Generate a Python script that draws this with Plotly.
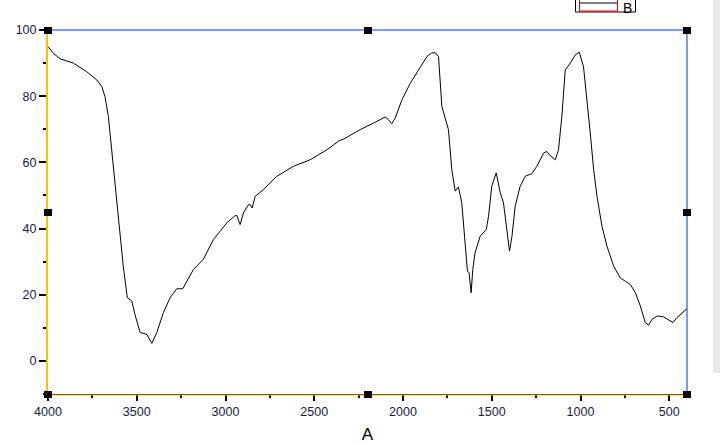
import plotly.graph_objects as go

# wavenumber (cm-1) and transmittance
wavenumber = [4000, 3970, 3932, 3857, 3782, 3725, 3697, 3679, 3660, 3645, 3613, 3576, 3553, 3528,
              3508, 3481, 3443, 3415, 3387, 3350, 3312, 3275, 3241, 3218, 3181, 3125, 3068, 3030,
              2993, 2946, 2936, 2918, 2899, 2871, 2861, 2850, 2833, 2786, 2711, 2617, 2523, 2429,
              2373, 2358, 2335, 2241, 2147, 2100, 2082, 2063, 2044, 2025, 2006, 1959, 1903, 1865,
              1840, 1819, 1800, 1781, 1744, 1725, 1706, 1688, 1669, 1650, 1637, 1628, 1616, 1607,
              1594, 1565, 1531, 1518, 1500, 1475, 1452, 1434, 1415, 1400, 1386, 1368, 1340, 1311,
              1274, 1246, 1208, 1190, 1170, 1142, 1124, 1105, 1086, 1057, 1029, 1007, 983, 964,
              945, 926, 907, 879, 851, 813, 776, 748, 719, 691, 663, 635, 616, 597, 566, 532, 503,
              479, 456, 428, 400]
transmittance = [95.0, 93.0, 91.3, 90.0, 87.4, 84.9, 82.9, 79.9, 73.9, 65.9, 48.7, 28.6, 19.1, 18.1,
                 13.6, 8.6, 8.0, 5.3, 8.6, 14.6, 19.1, 21.8, 21.8, 24.1, 27.6, 30.7, 36.7, 39.2,
                 41.7, 43.9, 43.9, 41.2, 44.7, 47.2, 47.2, 46.2, 49.7, 51.8, 55.8, 58.8, 60.8, 63.8,
                 65.8, 66.6, 67.0, 69.9, 72.4, 73.7, 72.9, 71.7, 73.4, 75.9, 78.9, 83.9, 88.5, 92.0,
                 93.0, 93.2, 92.0, 76.9, 69.9, 57.8, 51.3, 52.6, 47.8, 36.7, 27.1, 26.7, 20.6, 27.6,
                 32.7, 37.7, 39.7, 43.7, 52.8, 56.8, 50.8, 47.8, 39.7, 33.2, 37.7, 46.7, 52.8, 55.8,
                 56.6, 58.8, 62.8, 63.3, 62.0, 60.8, 63.8, 73.9, 87.9, 90.0, 92.5, 93.3, 88.9, 79.9,
                 68.9, 57.8, 49.7, 40.7, 34.7, 28.6, 25.1, 24.1, 23.1, 20.6, 16.6, 11.6, 10.8, 12.6,
                 13.6, 13.3, 12.3, 11.6, 13.1, 14.4, 15.8]

x_ticks = [4000, 3500, 3000, 2500, 2000, 1500, 1000, 500]
y_ticks = [0, 20, 40, 60, 80, 100]

W, H = 720, 444
L, R, T, B = 48, 33, 30, 50
pw, ph = W - L - R, H - T - B


def px(x):
    return (x - L) / pw


def py(y):
    return (H - B - y) / ph


fig = go.Figure()
fig.add_trace(go.Scatter(x=wavenumber, y=transmittance, mode="lines",
                         line=dict(color="black", width=1), name="B", showlegend=False))

tickfont = dict(family="Liberation Sans, Arial", size=12.5, color="#1a1a40")
fig.update_layout(
    width=W, height=H, margin=dict(l=L, r=R, t=T, b=B, autoexpand=False),
    paper_bgcolor="white", plot_bgcolor="white",
    xaxis=dict(range=[4000, 400], tickvals=x_ticks, ticks="outside", ticklen=6, tickwidth=2,
               tickcolor="black", showgrid=False, zeroline=False, tickfont=tickfont,
               showline=True, linecolor="black", linewidth=1, automargin=False,
               minor=dict(dtick=250, tick0=0, ticks="outside", ticklen=3, tickwidth=2, tickcolor="black"),
               title=dict(text="A", font=dict(family="Liberation Sans, Arial", size=17, color="black"),
                          standoff=12)),
    yaxis=dict(range=[-10, 100], tickvals=y_ticks, ticks="outside", ticklen=7, tickwidth=2,
               tickcolor="black", showgrid=False, zeroline=False, tickfont=tickfont,
               showline=True, linecolor="#FFC000", linewidth=2, automargin=False,
               minor=dict(dtick=10, tick0=0, ticks="outside", ticklen=3, tickwidth=2, tickcolor="black")),
)

shapes = []
# top and right frame lines (blue), orange underline of bottom axis
shapes.append(dict(type="line", xref="paper", yref="paper", x0=0, x1=1, y0=1, y1=1,
                   line=dict(color="#0033FF", width=1)))
shapes.append(dict(type="line", xref="paper", yref="paper", x0=1, x1=1, y0=0, y1=1,
                   line=dict(color="#0033FF", width=1)))
shapes.append(dict(type="line", xref="paper", yref="paper", x0=0, x1=1, y0=py(395), y1=py(395),
                   line=dict(color="#FFC000", width=1)))

# selection handles
for hx, hy in [(48, 30), (368, 30), (687, 30), (48, 212), (687, 212), (48, 394), (368, 394), (687, 394)]:
    shapes.append(dict(type="rect", xref="paper", yref="paper",
                       x0=px(hx - 4), x1=px(hx + 4), y0=py(hy + 4), y1=py(hy - 3),
                       fillcolor="black", line=dict(width=0)))

# legend box, cut off at the top
shapes.append(dict(type="rect", xref="paper", yref="paper", x0=px(575.5), x1=px(635.5),
                   y0=py(12), y1=py(-5), line=dict(color="black", width=1), fillcolor="white"))
shapes.append(dict(type="rect", xref="paper", yref="paper", x0=px(579.5), x1=px(617.5),
                   y0=py(11), y1=py(-5), line=dict(color="#E00000", width=1)))
shapes.append(dict(type="line", xref="paper", yref="paper", x0=px(580), x1=px(617),
                   y0=py(3), y1=py(3), line=dict(color="black", width=1)))

# window scrollbar strip at the right edge
shapes.append(dict(type="rect", xref="paper", yref="paper", x0=px(714), x1=px(722),
                   y0=py(372), y1=py(-5), fillcolor="#ececec", line=dict(color="#d8d8d8", width=1)))

fig.update_layout(shapes=shapes)
fig.add_annotation(x=px(627), y=py(8), xref="paper", yref="paper", text="B", showarrow=False,
                   font=dict(family="Liberation Sans, Arial", size=14, color="black"),
                   xanchor="center", yanchor="middle", borderpad=0)

fig.write_html("out.html", config={"displayModeBar": False},
               post_script="document.body.style.margin='0';")
